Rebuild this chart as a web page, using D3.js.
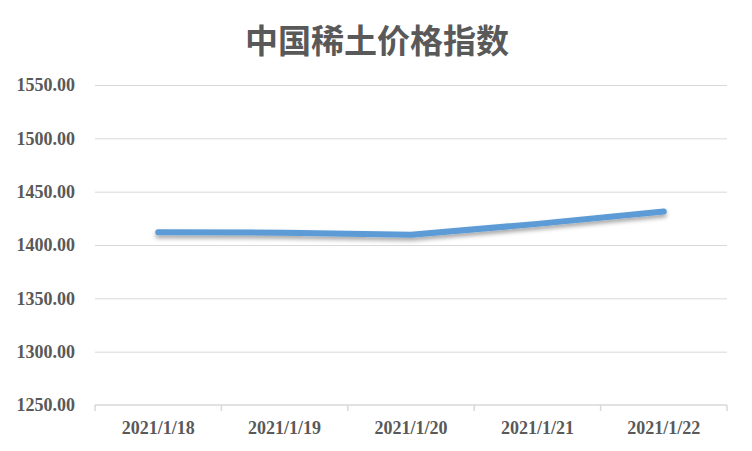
<!DOCTYPE html>
<html lang="zh">
<head>
<meta charset="utf-8"/>
<title>中国稀土价格指数</title>
<style>
  * { margin: 0; padding: 0; }
  body { background: #fff; }
  svg { display: block; }
  .title { font-family: "Noto Sans CJK SC", sans-serif; font-size: 33px; font-weight: 700; fill: #595959; }
  .axis text { font-family: "Liberation Serif", "Times New Roman", serif; font-size: 18px; font-weight: 700; fill: #595959; }
  .grid line { stroke: #d9d9d9; stroke-width: 1; }
  .grid .domain { display: none; }
</style>
<script src="https://d3js.org/d3.v7.min.js"></script>
</head>
<body>
<svg id="chart" width="752" height="451"></svg>
<script>
// data
const dates = ["2021/1/18", "2021/1/19", "2021/1/20", "2021/1/21", "2021/1/22"];
const index = [1411.9, 1411.6, 1409.6, 1419.8, 1431.4];
const yTicks = [1250, 1300, 1350, 1400, 1450, 1500, 1550];

const plotL = 95, plotR = 727, plotT = 85, plotB = 405;

const svg = d3.select("#chart");

// shadow under the line
const defs = svg.append("defs");
const f = defs.append("filter").attr("id", "shadow")
  .attr("x", "-5%").attr("y", "-50%").attr("width", "110%").attr("height", "200%");
f.append("feDropShadow").attr("dx", 0).attr("dy", 3).attr("stdDeviation", 2)
  .attr("flood-color", "#000").attr("flood-opacity", 0.35);

svg.append("text").attr("class", "title")
  .attr("x", 377).attr("y", 53).attr("text-anchor", "middle")
  .text("中国稀土价格指数");

const x = d3.scaleBand().domain(dates).range([plotL, plotR]);
const y = d3.scaleLinear().domain([1250, 1550]).range([plotB, plotT]);

// horizontal gridlines
svg.append("g").attr("class", "grid")
  .attr("transform", `translate(${plotL},0)`)
  .call(d3.axisLeft(y).tickValues(yTicks.slice(1)).tickSize(-(plotR - plotL)).tickFormat(""));

// y labels
const ya = svg.append("g").attr("class", "axis")
  .attr("transform", `translate(${plotL},0)`)
  .call(d3.axisLeft(y).tickValues(yTicks).tickSize(0).tickPadding(20).tickFormat(d => d.toFixed(2)));
ya.select(".domain").remove();

// x axis with boundary ticks
const xa = svg.append("g").attr("class", "axis")
  .attr("transform", `translate(0,${plotB})`)
  .call(d3.axisBottom(x).tickSize(0).tickPadding(16));
xa.select(".domain").attr("stroke", "#d9d9d9").attr("stroke-width", 1.5)
  .attr("d", `M${plotL},0H${plotR}`);
const bounds = dates.map(d => x(d)).concat([x(dates[dates.length - 1]) + x.bandwidth()]);
xa.selectAll(".bound").data(bounds).enter().append("line")
  .attr("class", "bound")
  .attr("x1", d => d).attr("x2", d => d).attr("y1", 0).attr("y2", 6)
  .attr("stroke", "#d9d9d9").attr("stroke-width", 1.5);

// index line
const line = d3.line()
  .x((d, i) => x(dates[i]) + x.bandwidth() / 2)
  .y(d => y(d));

svg.append("path")
  .attr("d", line(index))
  .attr("fill", "none")
  .attr("stroke", "#5b9bd5")
  .attr("stroke-width", 6)
  .attr("stroke-linecap", "round")
  .attr("stroke-linejoin", "round")
  .attr("filter", "url(#shadow)");
</script>
</body>
</html>
